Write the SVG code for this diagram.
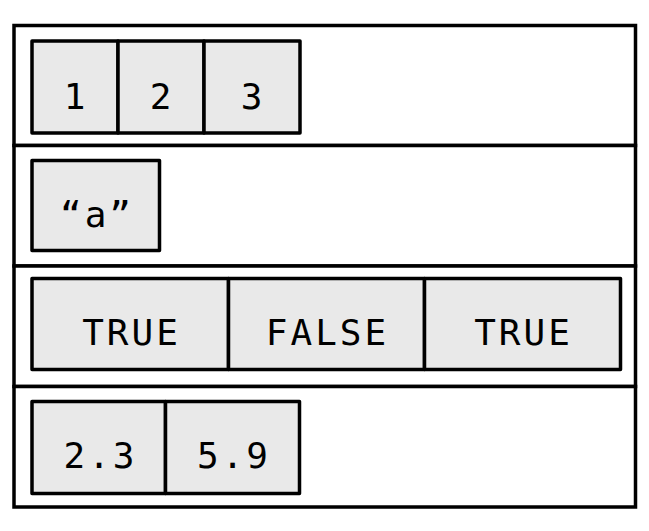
<svg xmlns="http://www.w3.org/2000/svg" width="649" height="531" viewBox="0 0 649 531">
<style>
.row{fill:#fff;stroke:#000;stroke-width:3.5}
.cell{fill:#e9e9e9;stroke:#000;stroke-width:3.5;stroke-linejoin:round}
.t{font-family:"DejaVu Sans Mono","Liberation Mono",monospace;font-size:36px;fill:#000;text-anchor:middle;letter-spacing:3px}
</style>
<rect width="649" height="531" fill="#fff"/>
<g id="row1">
<rect class="row" x="14" y="25.5" width="621.5" height="120"/>
<rect class="cell" x="32" y="41" width="86" height="92"/>
<rect class="cell" x="118" y="41" width="86" height="92"/>
<rect class="cell" x="204" y="41" width="96" height="92"/>
<text class="t" x="76" y="109">1</text>
<text class="t" x="162" y="109">2</text>
<text class="t" x="253" y="109">3</text>
</g>
<g id="row2">
<rect class="row" x="14" y="145.5" width="621.5" height="120.5"/>
<rect class="cell" x="32" y="160.5" width="127.5" height="90"/>
<text class="t" x="97" y="227">“a”</text>
</g>
<g id="row3">
<rect class="row" x="14" y="266" width="621.5" height="120.5"/>
<rect class="cell" x="32" y="278.5" width="196.5" height="91"/>
<rect class="cell" x="228.5" y="278.5" width="196" height="91"/>
<rect class="cell" x="424.5" y="278.5" width="196" height="91"/>
<text class="t" x="131.5" y="345">TRUE</text>
<text class="t" x="327.5" y="345">FALSE</text>
<text class="t" x="523.5" y="345">TRUE</text>
</g>
<g id="row4">
<rect class="row" x="14" y="386.5" width="621.5" height="120.5"/>
<rect class="cell" x="32" y="401.5" width="133.5" height="92"/>
<rect class="cell" x="165.5" y="401.5" width="134" height="92"/>
<text class="t" x="100.5" y="468">2.3</text>
<text class="t" x="234" y="468">5.9</text>
</g>
</svg>
